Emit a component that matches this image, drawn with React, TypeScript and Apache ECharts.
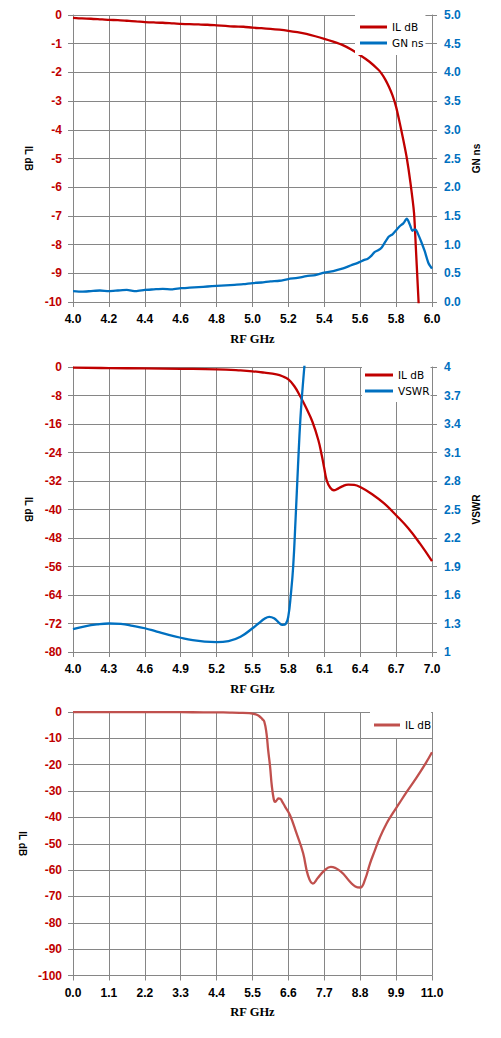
import React, { useEffect, useRef } from "react";
import * as echarts from "echarts";

// ---------- Chart 1: IL dB & GN ns, 4.0–6.0 GHz ----------
const x1Ticks = { min: 4.0, max: 6.0, interval: 0.2 };
const il1Freq = [4.00, 4.05, 4.10, 4.15, 4.20, 4.25, 4.30, 4.35, 4.40, 4.45, 4.50, 4.55, 4.60, 4.65, 4.70, 4.75, 4.80, 4.85, 4.90, 4.95, 5.00, 5.05, 5.10, 5.15, 5.20, 5.25, 5.30, 5.35, 5.40, 5.45, 5.50, 5.55, 5.60, 5.65, 5.70, 5.72, 5.74, 5.76, 5.78, 5.80, 5.82, 5.84, 5.86, 5.88, 5.90, 5.91, 5.92, 5.93];
const il1Values = [-0.10, -0.12, -0.13, -0.15, -0.17, -0.18, -0.20, -0.22, -0.25, -0.26, -0.27, -0.29, -0.31, -0.32, -0.33, -0.34, -0.36, -0.38, -0.40, -0.41, -0.44, -0.46, -0.48, -0.51, -0.55, -0.60, -0.66, -0.74, -0.83, -0.93, -1.04, -1.20, -1.40, -1.62, -1.90, -2.05, -2.25, -2.50, -2.80, -3.20, -3.75, -4.35, -5.00, -5.85, -6.90, -8.10, -9.35, -10.60];
const gnFreq = [4.00, 4.05, 4.10, 4.15, 4.20, 4.25, 4.30, 4.35, 4.40, 4.45, 4.50, 4.55, 4.60, 4.65, 4.70, 4.75, 4.80, 4.85, 4.90, 4.95, 5.00, 5.05, 5.10, 5.15, 5.20, 5.25, 5.30, 5.35, 5.40, 5.45, 5.50, 5.55, 5.60, 5.62, 5.64, 5.66, 5.68, 5.70, 5.72, 5.74, 5.76, 5.78, 5.80, 5.82, 5.84, 5.86, 5.87, 5.88, 5.89, 5.90, 5.91, 5.92, 5.94, 5.96, 5.98, 6.00];
const gnValues = [0.19, 0.18, 0.19, 0.20, 0.19, 0.20, 0.21, 0.19, 0.21, 0.22, 0.23, 0.22, 0.24, 0.25, 0.26, 0.27, 0.28, 0.29, 0.30, 0.31, 0.33, 0.34, 0.36, 0.37, 0.40, 0.42, 0.45, 0.47, 0.51, 0.54, 0.58, 0.64, 0.70, 0.73, 0.75, 0.80, 0.87, 0.90, 0.95, 1.05, 1.14, 1.18, 1.25, 1.32, 1.37, 1.45, 1.40, 1.32, 1.24, 1.26, 1.26, 1.20, 1.05, 0.88, 0.68, 0.58];

// ---------- Chart 2: IL dB & VSWR, 4.0–7.0 GHz ----------
const x2Ticks = { min: 4.0, max: 7.0, interval: 0.3 };
const vswrTicks = { min: 1, max: 4, interval: 0.3 };
const il2Freq = [4.0, 4.3, 4.6, 4.9, 5.2, 5.4, 5.5, 5.6, 5.7, 5.75, 5.8, 5.85, 5.9, 5.95, 6.0, 6.05, 6.08, 6.1, 6.12, 6.15, 6.18, 6.2, 6.25, 6.3, 6.35, 6.4, 6.5, 6.6, 6.7, 6.8, 6.9, 7.0];
const il2Values = [-0.2, -0.3, -0.4, -0.5, -0.65, -0.95, -1.2, -1.6, -2.1, -2.6, -3.5, -5.4, -8.3, -11.6, -15.3, -20.5, -25.0, -28.5, -31.8, -33.9, -34.6, -34.4, -33.5, -33.0, -33.1, -33.7, -35.7, -38.3, -41.6, -45.2, -49.6, -54.5];
const vswrFreq = [4.0, 4.1, 4.2, 4.3, 4.4, 4.5, 4.6, 4.7, 4.8, 4.9, 5.0, 5.1, 5.2, 5.3, 5.4, 5.5, 5.55, 5.6, 5.64, 5.68, 5.72, 5.75, 5.78, 5.80, 5.82, 5.84, 5.86, 5.88, 5.90, 5.92, 5.94, 5.96];
const vswrValues = [1.24, 1.27, 1.29, 1.30, 1.295, 1.275, 1.25, 1.215, 1.18, 1.15, 1.125, 1.11, 1.105, 1.115, 1.16, 1.25, 1.30, 1.35, 1.37, 1.355, 1.31, 1.285, 1.30, 1.38, 1.60, 1.90, 2.40, 2.95, 3.45, 3.80, 4.10, 4.40];

// ---------- Chart 3: IL dB, 0–11 GHz ----------
const il3Freq = [0, 1.1, 2.2, 3.3, 4.0, 4.4, 4.8, 5.1, 5.4, 5.6, 5.7, 5.8, 5.86, 5.93, 5.98, 6.04, 6.09, 6.15, 6.19, 6.25, 6.3, 6.35, 6.4, 6.5, 6.65, 6.85, 7.05, 7.2, 7.35, 7.5, 7.7, 7.9, 8.2, 8.5, 8.65, 8.8, 8.95, 9.1, 9.25, 9.4, 9.6, 9.8, 10.0, 10.2, 10.5, 10.8, 11.0];
const il3Values = [-0.05, -0.05, -0.05, -0.08, -0.12, -0.15, -0.22, -0.3, -0.45, -0.9, -1.5, -2.7, -3.6, -8.2, -14.5, -20.9, -27.8, -33.0, -34.1, -33.4, -32.8, -32.9, -33.8, -36.0, -39.2, -46.1, -53.5, -62.0, -65.1, -63.0, -60.2, -58.8, -60.5, -64.6, -66.2, -66.6, -63.5, -57.5, -52.5, -47.7, -42.5, -38.4, -34.6, -30.8, -25.4, -19.6, -15.3];

const RED = "#C00000";
const BLUE = "#0070C0";
const RED3 = "#C0504D";
const GRIDC = "#868686";
const TICKFONT = "'Liberation Sans', Arial, sans-serif";
const LEGFONT = "'DejaVu Sans', Verdana, sans-serif";

const pairs = (xs: number[], ys: number[], dx = 0, dy = 0) => xs.map((x, i) => [x - dx, ys[i] - dy]);

const tickLabel = (color: string, margin: number, formatter?: any) => ({
  color, fontFamily: TICKFONT, fontWeight: "bold", fontSize: 12, margin, formatter,
});

function xAxis(min: number, max: number, interval: number, formatter: any) {
  return {
    type: "value", min, max, interval,
    name: "RF GHz", nameLocation: "middle", nameGap: 30,
    nameTextStyle: { fontFamily: "'Liberation Serif', 'Times New Roman', serif", fontWeight: "bold", fontSize: 12.5, color: "#000" },
    axisLine: { show: true, onZero: false, lineStyle: { color: GRIDC, width: 1 } },
    axisTick: { show: true, length: 5, lineStyle: { color: GRIDC } },
    axisLabel: tickLabel("#000", 11, formatter),
    splitLine: { show: true, lineStyle: { color: GRIDC, width: 1 } },
  };
}

function yAxis(pos: "left" | "right", name: string, min: number, max: number, interval: number, color: string, nameGap: number, nameRotate: number, formatter?: any, split = true) {
  return {
    type: "value", position: pos, min, max, interval,
    name, nameLocation: "middle", nameGap, nameRotate,
    nameTextStyle: { fontFamily: TICKFONT, fontWeight: "bold", fontSize: 10, color: "#000" },
    axisLine: { show: true, onZero: false, lineStyle: { color: GRIDC, width: 1 } },
    axisTick: { show: true, length: 5, lineStyle: { color: GRIDC } },
    axisLabel: tickLabel(color, pos === "left" ? 11 : 12, formatter),
    splitLine: { show: split, lineStyle: { color: GRIDC, width: 1 } },
  };
}

function legend(left: number, top: number, padding: number[], itemWidth: number, names: any[]) {
  return {
    orient: "vertical", left, top, padding, itemGap: 2,
    itemWidth, itemHeight: 3, icon: "rect", backgroundColor: "#fff",
    textStyle: { fontFamily: LEGFONT, fontSize: 10.5, color: "#000", lineHeight: 14 },
    data: names,
  };
}

function line(name: string, data: any[], color: string, yAxisIndex = 0, smooth: any = false) {
  return {
    type: "line", name, data, yAxisIndex, smooth,
    showSymbol: false, symbol: "none", clip: true,
    lineStyle: { color, width: 2.3, join: "round" }, itemStyle: { color },
  };
}

function option1() {
  return {
    animation: false,
    grid: { left: 73, top: 15, width: 359, height: 288 },
    legend: legend(355, 15, [5, 2, 5, 5], 27, ["IL dB", "GN ns"]),
    xAxis: xAxis(x1Ticks.min, x1Ticks.max, x1Ticks.interval, (v: number) => v.toFixed(1)),
    yAxis: [
      yAxis("left", "IL dB", -10, 0, 1, RED, 37, -90),
      yAxis("right", "GN ns", 0, 5, 0.5, BLUE, 39, 90, (v: number) => v.toFixed(1), false),
    ],
    series: [
      line("IL dB", pairs(il1Freq, il1Values), RED, 0, 0.2),
      line("GN ns", pairs(gnFreq, gnValues), BLUE, 1, 0.2),
    ],
  };
}

function option2() {
  // axis offset so that ticks start exactly at min (min is not a multiple of 0.3)
  const dx = x2Ticks.min;
  const dv = vswrTicks.min;
  return {
    animation: false,
    grid: { left: 73, top: 17, width: 359, height: 286.5 },
    legend: legend(362, 14, [4, 1, 4, 3], 28, ["IL dB", "VSWR"]),
    xAxis: xAxis(0, x2Ticks.max - dx, x2Ticks.interval, (v: number) => (v + dx).toFixed(1)),
    yAxis: [
      yAxis("left", "IL dB", -80, 0, 8, RED, 37, -90),
      yAxis("right", "VSWR", 0, vswrTicks.max - dv, vswrTicks.interval, BLUE, 37, 90, (v: number) => String(+(v + dv).toFixed(1)), false),
    ],
    series: [
      line("IL dB", pairs(il2Freq, il2Values, dx, 0), RED, 0, 0.45),
      line("VSWR", pairs(vswrFreq, vswrValues, dx, dv), BLUE, 1, 0.45),
    ],
  };
}

function option3() {
  return {
    animation: false,
    grid: { left: 73, top: 12, width: 359, height: 263.5 },
    legend: legend(370, 12, [6, 0, 6, 4], 26, ["IL dB"]),
    xAxis: xAxis(0, 11, 1.1, (v: number) => v.toFixed(1)),
    yAxis: [yAxis("left", "IL dB", -100, 0, 10, RED, 43, -90)],
    series: [line("IL dB", pairs(il3Freq, il3Values), RED3, 0, 0.45)],
  };
}

export default function App() {
  const r1 = useRef<HTMLDivElement>(null);
  const r2 = useRef<HTMLDivElement>(null);
  const r3 = useRef<HTMLDivElement>(null);
  useEffect(() => {
    const list: [any, any][] = [[r1, option1()], [r2, option2()], [r3, option3()]];
    const charts = list.map(([r, o]) => {
      const c = echarts.init(r.current, null, { renderer: "svg" });
      c.setOption(o);
      return c;
    });
    return () => charts.forEach((c) => c.dispose());
  }, []);
  return (
    <div style={{ position: "absolute", left: 0, top: 0, width: 501, height: 1038, background: "#fff" }}>
      <div ref={r1} style={{ position: "absolute", left: 0, top: 0, width: 501, height: 350 }} />
      <div ref={r2} style={{ position: "absolute", left: 0, top: 350, width: 501, height: 350 }} />
      <div ref={r3} style={{ position: "absolute", left: 0, top: 700, width: 501, height: 338 }} />
    </div>
  );
}
